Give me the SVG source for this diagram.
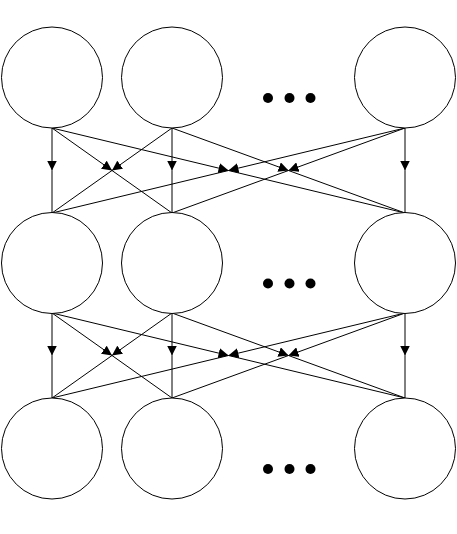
<svg xmlns="http://www.w3.org/2000/svg" width="457" height="534" viewBox="0 0 457 534">
<style>
.node{fill:#fff;stroke:#000;stroke-width:1}
.edge{fill:none;stroke:#000;stroke-width:1;marker-mid:url(#arrow)}
.dot{fill:#000}
</style>
<defs>
<marker id="arrow" markerUnits="userSpaceOnUse" markerWidth="10" markerHeight="10" refX="10" refY="5" orient="auto">
<path d="M0,0 L10,5 L0,10 z" fill="#000"/>
</marker>
</defs>
<rect width="457" height="534" fill="#fff"/>
<g id="connectors">
<path class="edge" d="M52,128 L52,170.5 L52,213"/>
<path class="edge" d="M52,128 L112,170.5 L172,213"/>
<path class="edge" d="M52,128 L228.5,170.5 L405,213"/>
<path class="edge" d="M172,128 L112,170.5 L52,213"/>
<path class="edge" d="M172,128 L172,170.5 L172,213"/>
<path class="edge" d="M172,128 L288.5,170.5 L405,213"/>
<path class="edge" d="M405,128 L228.5,170.5 L52,213"/>
<path class="edge" d="M405,128 L288.5,170.5 L172,213"/>
<path class="edge" d="M405,128 L405,170.5 L405,213"/>
<path class="edge" d="M52,313 L52,355.5 L52,398"/>
<path class="edge" d="M52,313 L112,355.5 L172,398"/>
<path class="edge" d="M52,313 L228.5,355.5 L405,398"/>
<path class="edge" d="M172,313 L112,355.5 L52,398"/>
<path class="edge" d="M172,313 L172,355.5 L172,398"/>
<path class="edge" d="M172,313 L288.5,355.5 L405,398"/>
<path class="edge" d="M405,313 L228.5,355.5 L52,398"/>
<path class="edge" d="M405,313 L288.5,355.5 L172,398"/>
<path class="edge" d="M405,313 L405,355.5 L405,398"/>
</g>
<g id="n11"><circle class="node" cx="52" cy="77.5" r="50.5"/></g>
<g id="n12"><circle class="node" cx="172" cy="77.5" r="50.5"/></g>
<g id="n13"><circle class="node" cx="405" cy="77.5" r="50.5"/></g>
<g id="n21"><circle class="node" cx="52" cy="263" r="50.5"/></g>
<g id="n22"><circle class="node" cx="172" cy="263" r="50.5"/></g>
<g id="n23"><circle class="node" cx="405" cy="263" r="50.5"/></g>
<g id="n31"><circle class="node" cx="52" cy="448.5" r="50.5"/></g>
<g id="n32"><circle class="node" cx="172" cy="448.5" r="50.5"/></g>
<g id="n33"><circle class="node" cx="405" cy="448.5" r="50.5"/></g>
<g id="dots1"><circle class="dot" cx="268" cy="98" r="5"/><circle class="dot" cx="289.5" cy="98" r="5"/><circle class="dot" cx="310.5" cy="98" r="5"/></g>
<g id="dots2"><circle class="dot" cx="268" cy="283.5" r="5"/><circle class="dot" cx="289.5" cy="283.5" r="5"/><circle class="dot" cx="310.5" cy="283.5" r="5"/></g>
<g id="dots3"><circle class="dot" cx="268" cy="469" r="5"/><circle class="dot" cx="289.5" cy="469" r="5"/><circle class="dot" cx="310.5" cy="469" r="5"/></g>
</svg>
